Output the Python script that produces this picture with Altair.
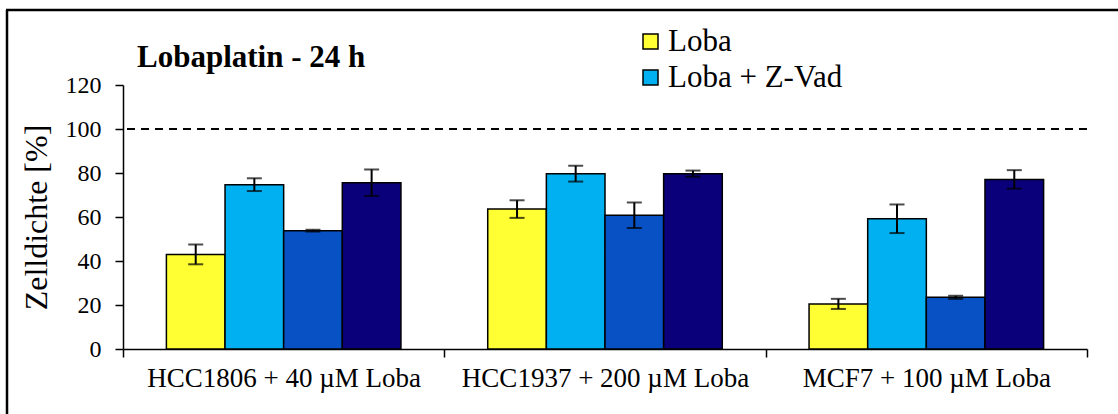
import altair as alt
import pandas as pd

# ---- data ----
groups = ["HCC1806 + 40 µM Loba", "HCC1937 + 200 µM Loba", "MCF7 + 100 µM Loba"]
series = ["Loba", "Loba + Z-Vad", "Loba (2)", "Loba + Z-Vad (2)"]
legend_series = ["Loba", "Loba + Z-Vad"]
colors = ["#FFFF33", "#00B0F0", "#0751C4", "#0A007A"]

loba = [43.0, 63.6, 20.5]
loba_zvad = [74.7, 79.7, 59.2]
loba_2 = [53.8, 60.8, 23.5]
loba_zvad_2 = [75.6, 79.7, 77.1]

err_loba = [4.5, 4.0, 2.3]
err_loba_zvad = [2.9, 3.6, 6.5]
err_loba_2 = [0.4, 5.8, 0.7]
err_loba_zvad_2 = [6.0, 1.4, 4.2]

y_ticks = [0, 20, 40, 60, 80, 100, 120]
ref_line = [100]
title_text = "Lobaplatin - 24 h"
y_title = "Zelldichte [%]"

# ---- build table ----
vals = [loba, loba_zvad, loba_2, loba_zvad_2]
errs = [err_loba, err_loba_zvad, err_loba_2, err_loba_zvad_2]
rows = []
for s, v, e in zip(series, vals, errs):
    for g, vv, ee in zip(groups, v, e):
        rows.append({"group": g, "series": s, "value": vv, "lo": vv - ee, "hi": vv + ee})
df = pd.DataFrame(rows)

FONT = "'Liberation Serif', 'Times New Roman', serif"

x_enc = alt.X(
    "group:N", sort=groups,
    scale=alt.Scale(paddingInner=0, paddingOuter=0),
    axis=alt.Axis(title=None, tickBand="extent", labelAngle=0, labelFontSize=27,
                  labelFont=FONT, labelColor="black", labelLimit=0, tickSize=8,
                  tickColor="black", tickWidth=1.5, domainColor="black", domainWidth=1.5,
                  labelPadding=8),
)
xoff_enc = alt.XOffset("series:N", sort=series,
                       scale=alt.Scale(paddingInner=0, paddingOuter=0.74))

base = alt.Chart(df)

bars = base.mark_bar(stroke="black", strokeWidth=1.5).encode(
    x=x_enc,
    xOffset=xoff_enc,
    y=alt.Y("value:Q", scale=alt.Scale(domain=[0, 120]),
            axis=alt.Axis(values=y_ticks, title=y_title, titleFontSize=32, titleFont=FONT,
                          titleFontWeight="normal", titleColor="black", labelFontSize=24,
                          labelFont=FONT, labelColor="black", tickSize=8, tickColor="black",
                          tickWidth=1.5, domainColor="black", domainWidth=1.5, grid=False,
                          labelPadding=14, titlePadding=12)),
    color=alt.Color("series:N", sort=series,
                    scale=alt.Scale(domain=series, range=colors),
                    legend=alt.Legend(values=legend_series, title=None, orient="none",
                                      legendX=512, legendY=-59, symbolType="square",
                                      symbolSize=225, symbolStrokeColor="black",
                                      symbolStrokeWidth=1.5, labelFontSize=31,
                                      labelFont=FONT, labelColor="black", labelOffset=2,
                                      labelLimit=0, rowPadding=4, padding=0)),
)

err_rule = base.mark_rule(color="black", strokeWidth=2).encode(
    x=x_enc, xOffset=xoff_enc, y="lo:Q", y2="hi:Q")
cap_lo = base.mark_tick(color="black", thickness=2, size=15).encode(
    x=x_enc, xOffset=xoff_enc, y="lo:Q")
cap_hi = base.mark_tick(color="black", thickness=2, size=15).encode(
    x=x_enc, xOffset=xoff_enc, y="hi:Q")

dashed = alt.Chart(pd.DataFrame({"ref": ref_line})).mark_rule(
    color="black", strokeWidth=2, strokeDash=[8, 6]).encode(y="ref:Q")

one = alt.Data(values=[{"k": 1}])
frame_left = alt.Chart(one).mark_rule(color="black", strokeWidth=2.5).encode(
    x=alt.value(-116), y=alt.value(-75), y2=alt.value(360))
frame_top = alt.Chart(one).mark_rule(color="black", strokeWidth=2.5).encode(
    x=alt.value(-117), x2=alt.value(1010), y=alt.value(-75))

title = alt.Chart(one).mark_text(
    text=title_text, font=FONT, fontSize=31, fontWeight="bold",
    align="left", baseline="alphabetic", color="black").encode(
    x=alt.value(14), y=alt.value(-18))

chart = alt.layer(frame_left, frame_top, dashed, bars, err_rule, cap_lo, cap_hi, title).properties(
    width=964, height=264,
    autosize=alt.AutoSizeParams(type="none"),
    padding={"left": 123, "top": 85, "right": 31, "bottom": 65},
    background="white",
).configure_view(stroke=None)

chart.save("out.html", embed_options={"renderer": "svg", "actions": False})
